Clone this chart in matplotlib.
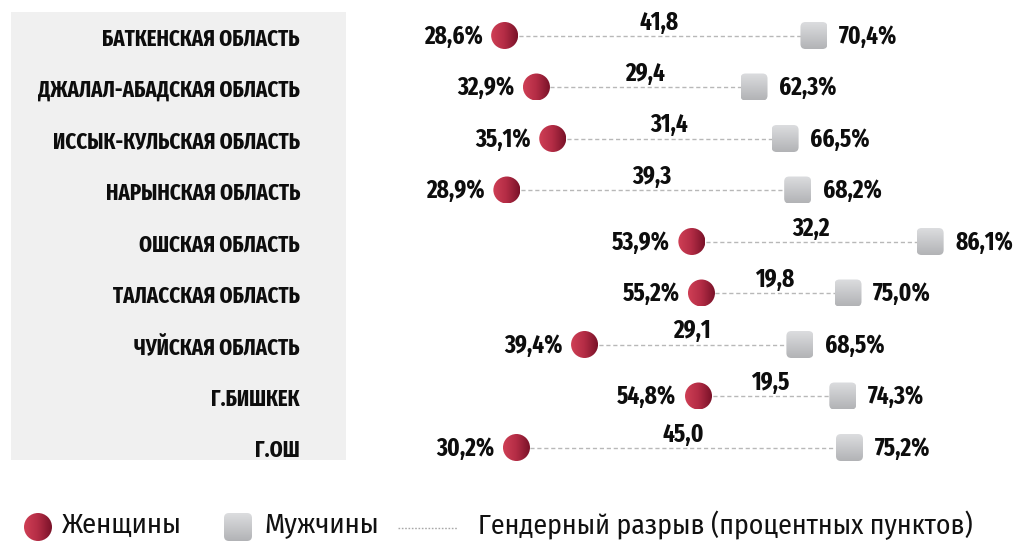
import matplotlib

matplotlib.use("Agg")
import matplotlib.pyplot as plt
import matplotlib.transforms as mtransforms
import numpy as np
from matplotlib.colors import LinearSegmentedColormap
from matplotlib.patches import Ellipse, FancyBboxPatch, Rectangle

# regions and shares (%) by sex
regions = [
    "БАТКЕНСКАЯ ОБЛАСТЬ",
    "ДЖАЛАЛ-АБАДСКАЯ ОБЛАСТЬ",
    "ИССЫК-КУЛЬСКАЯ ОБЛАСТЬ",
    "НАРЫНСКАЯ ОБЛАСТЬ",
    "ОШСКАЯ ОБЛАСТЬ",
    "ТАЛАССКАЯ ОБЛАСТЬ",
    "ЧУЙСКАЯ ОБЛАСТЬ",
    "Г.БИШКЕК",
    "Г.ОШ",
]
women = [28.6, 32.9, 35.1, 28.9, 53.9, 55.2, 39.4, 54.8, 30.2]
men = [70.4, 62.3, 66.5, 68.2, 86.1, 75.0, 68.5, 74.3, 75.2]
gap = [41.8, 29.4, 31.4, 39.3, 32.2, 19.8, 29.1, 19.5, 45.0]

legend_labels = ["Женщины", "Мужчины", "Гендерный разрыв (процентных пунктов)"]

W, H = 1030, 545
BOLD_FONT = ["Fira Sans Extra Condensed", "DejaVu Sans"]
LIGHT_FONT = ["Fira Sans Condensed", "Fira Sans Extra Condensed", "DejaVu Sans"]
plt.rcParams["font.family"] = BOLD_FONT

fig = plt.figure(figsize=(W / 100, H / 100), dpi=100)
ax = fig.add_axes([0, 0, 1, 1])
ax.set_axis_off()

# linear value scale: pixel = x0 + k * value ; rows spaced evenly
k, x0 = 7.4, 293.0
row0, step = 35.5, 51.5
ax.set_xlim(-x0 / k, (W - x0) / k)
ax.set_ylim((H - row0) / step, -row0 / step)

# grey panel behind region names
ax.add_patch(Rectangle((11 / W, 1 - 460 / H), 335 / W, 448 / H,
                       transform=fig.transFigure, facecolor="#f0f0f0",
                       edgecolor="none", zorder=0))

red_grad = np.linspace(0, 1, 64)[None, :]
grey_grad = np.linspace(0, 1, 64)[:, None]
red_cmap = LinearSegmentedColormap.from_list("r", ["#cf3f55", "#b32c45", "#7a1229"])
grey_cmap = LinearSegmentedColormap.from_list("g", ["#dcdddf", "#b2b3b6"])


def pix_transform(x, y, axes):
    return mtransforms.Affine2D().scale(fig.dpi / 100) + mtransforms.ScaledTranslation(x, y, axes.transData)


def woman_marker(axes, x, y, w=27, h=27):
    tr = pix_transform(x, y, axes)
    patch = Ellipse((0, 0), w, h, transform=tr, facecolor="none", edgecolor="none")
    axes.add_patch(patch)
    im = axes.imshow(red_grad, cmap=red_cmap, extent=(-w / 2, w / 2, -h / 2, h / 2),
                     transform=tr, aspect="auto", interpolation="bilinear", zorder=3)
    im.set_clip_path(patch)


def man_marker(axes, x, y, w=27, h=27):
    tr = pix_transform(x, y, axes)
    patch = FancyBboxPatch((-w / 2, -h / 2), w, h, boxstyle="round,pad=0,rounding_size=5",
                           transform=tr, facecolor="none", edgecolor="none")
    axes.add_patch(patch)
    im = axes.imshow(grey_grad, cmap=grey_cmap, extent=(-w / 2, w / 2, -h / 2, h / 2),
                     transform=tr, aspect="auto", interpolation="bilinear", zorder=3)
    im.set_clip_path(patch)


def fmt(v, pct=True):
    s = f"{v:.1f}".replace(".", ",")
    return s + "%" if pct else s


for i, (name, wv, mv, gv) in enumerate(zip(regions, women, men, gap)):
    ax.text((300 - x0) / k, i + 0.06, name, ha="right", va="center", fontsize=16.3,
            fontweight="bold", color="#0d0d0d", zorder=3)
    ax.plot([wv, mv], [i, i], color="#b8b8b8", lw=1, dashes=(3, 2), zorder=1)
    woman_marker(ax, wv, i)
    man_marker(ax, mv, i)
    ax.annotate(fmt(wv), (wv, i), xytext=(-22, -1), textcoords="offset pixels",
                ha="right", va="center", fontsize=18, fontweight="bold", color="#0d0d0d")
    ax.annotate(fmt(mv), (mv, i), xytext=(25, -1), textcoords="offset pixels",
                ha="left", va="center", fontsize=18, fontweight="bold", color="#0d0d0d")
    ax.annotate(fmt(gv, pct=False), ((wv + mv) / 2, i), xytext=(0, 6),
                textcoords="offset pixels", ha="center", va="baseline",
                fontsize=18, fontweight="bold", color="#0d0d0d")

# legend along the bottom
lax = fig.add_axes([0, 0, 1, 1], facecolor="none")
lax.set_axis_off()
woman_marker(lax, 38, 527, w=28, h=28)
man_marker(lax, 238, 527, w=28, h=28)
lax.text(62, 525, legend_labels[0], ha="left", va="center", fontsize=20.5,
         family=LIGHT_FONT, fontweight="normal", color="#111111")
lax.text(264, 525, legend_labels[1], ha="left", va="center", fontsize=20.5,
         family=LIGHT_FONT, fontweight="normal", color="#111111")
lax.plot([398, 458], [528, 528], color="#a8a8a8", lw=1, dashes=(1.2, 1.2))
lax.text(478, 525, legend_labels[2], ha="left", va="center", fontsize=20,
         family=LIGHT_FONT, fontweight="normal", color="#111111")
lax.set_xlim(0, W)
lax.set_ylim(H, 0)

fig.savefig("out.png", dpi=100, facecolor="white")
